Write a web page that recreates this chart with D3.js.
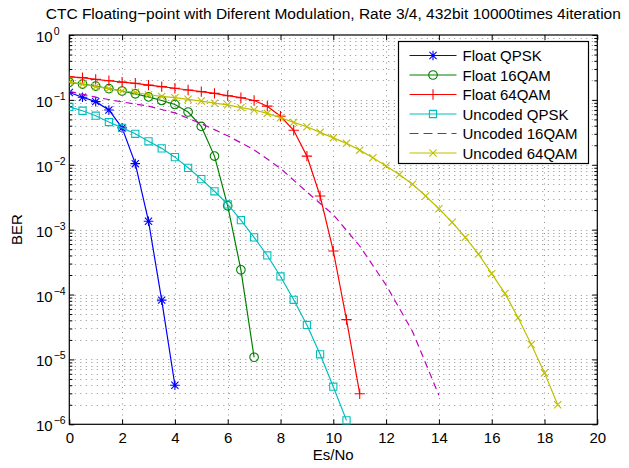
<!DOCTYPE html>
<html>
<head>
<meta charset="utf-8">
<script src="https://cdn.jsdelivr.net/npm/d3@7"></script>
<style>
  body { margin: 0; background: #fff; }
  svg { display: block; font-family: "Liberation Sans", Arial, sans-serif; }
</style>
</head>
<body>
<div id="chart"></div>
<script>
const titleText = "CTC Floating\u2212point with Diferent Modulation, Rate 3/4, 432bit 10000times 4iteration"
const xLabel = "Es/No"
const yLabel = "BER"

const xTicks = [0, 2, 4, 6, 8, 10, 12, 14, 16, 18, 20]
const yExponents = [0, -1, -2, -3, -4, -5, -6]

const seriesNames = ["Float QPSK", "Float 16QAM", "Float 64QAM", "Uncoded QPSK", "Uncoded 16QAM", "Uncoded 64QAM"]

const floatQpskX = [0, 0.5, 1, 1.5, 2, 2.5, 3, 3.5, 4]
const floatQpsk = [0.13, 0.11, 0.094, 0.070, 0.037, 0.0104, 1.35e-3, 8.2e-5, 4.0e-6]

const float16qamX = [0, 0.5, 1, 1.5, 2, 2.5, 3, 3.5, 4, 4.5, 5, 5.5, 6, 6.5, 7]
const float16qam = [0.187, 0.175, 0.163, 0.149, 0.137, 0.124, 0.111, 0.098, 0.085, 0.065, 0.039, 0.0136, 2.33e-3, 2.4e-4, 1.08e-5]

const float64qamX = [0, 0.5, 1, 1.5, 2, 2.5, 3, 3.5, 4, 4.5, 5, 5.5, 6, 6.5, 7, 7.5, 8, 8.5, 9, 9.5, 10, 10.5, 11]
const float64qam = [0.227, 0.22, 0.207, 0.197, 0.188, 0.18, 0.169, 0.16, 0.151, 0.142, 0.134, 0.126, 0.116, 0.108, 0.098, 0.080, 0.056, 0.034, 0.0136, 3.3e-3, 4.7e-4, 4.1e-5, 2.96e-6]

const uncodedQpskX = [0, 0.5, 1, 1.5, 2, 2.5, 3, 3.5, 4, 4.5, 5, 5.5, 6, 6.5, 7, 7.5, 8, 8.5, 9, 9.5, 10, 10.5]
const uncodedQpsk = [0.078, 0.068, 0.057, 0.0455, 0.037, 0.030, 0.023, 0.0179, 0.0131, 8.97e-3, 6.0e-3, 3.9e-3, 2.45e-3, 1.4e-3, 7.6e-4, 4.0e-4, 1.9e-4, 8.3e-5, 3.4e-5, 1.2e-5, 3.8e-6, 1.15e-6]

const uncoded16qamX = [0, 1, 2, 3, 4, 5, 6, 7, 8, 9, 10, 11, 12, 13, 14]
const uncoded16qam = [0.135, 0.110, 0.093, 0.080, 0.063, 0.043, 0.028, 0.017, 8.8e-3, 3.8e-3, 1.7e-3, 5.6e-4, 1.4e-4, 2.7e-5, 2.8e-6]

const uncoded64qamX = [0, 0.5, 1, 1.5, 2, 2.5, 3, 3.5, 4, 4.5, 5, 5.5, 6, 6.5, 7, 7.5, 8, 8.5, 9, 9.5, 10, 10.5, 11, 11.5, 12, 12.5, 13, 13.5, 14, 14.5, 15, 15.5, 16, 16.5, 17, 17.5, 18, 18.5]
const uncoded64qam = [0.19, 0.174, 0.16, 0.149, 0.137, 0.131, 0.12, 0.113, 0.108, 0.102, 0.096, 0.089, 0.084, 0.076, 0.070, 0.062, 0.053, 0.045, 0.0385, 0.0316, 0.026, 0.0214, 0.0168, 0.0128, 9.6e-3, 7.1e-3, 5.0e-3, 3.3e-3, 2.1e-3, 1.3e-3, 7.6e-4, 4.2e-4, 2.1e-4, 1.04e-4, 4.4e-5, 1.7e-5, 6.2e-6, 2.0e-6]

const seriesX = [floatQpskX, float16qamX, float64qamX, uncodedQpskX, uncoded16qamX, uncoded64qamX]
const seriesY = [floatQpsk, float16qam, float64qam, uncodedQpsk, uncoded16qam, uncoded64qam]
const colors = ["#0000ff", "#008000", "#ff0000", "#00bfbf", "#bf00bf", "#bfbf00"]
const markers = ["star", "circle", "plus", "square", null, "x"]
const dashes = [null, null, null, null, "7,4.5", null]

const width = 629,
    height = 468,
    margin = { top: 35, right: 31.7, bottom: 43.7, left: 69.3 }

const x = d3.scaleLinear()
    .domain([0, 20])
    .range([margin.left, width - margin.right])

const y = d3.scaleLog()
    .domain([1e-6, 1])
    .range([height - margin.bottom, margin.top])

const svg = d3.select('#chart').append('svg')
    .attr('width', width)
    .attr('height', height)

svg.append('rect').attr('width', width).attr('height', height).attr('fill', '#fff')

svg.append('clipPath').attr('id', 'plot')
    .append('rect')
    .attr('x', margin.left).attr('y', margin.top - 6)
    .attr('width', x(20) - x(0)).attr('height', y(1e-6) - y(1) + 12)

// minor decades 2..9
const majorY = yExponents.map(e => Math.pow(10, e))
const minorY = []
majorY.slice(1).forEach(v => { for (let k = 2; k <= 9; k++) minorY.push(v * k) })

const grid = svg.append('g')
    .attr('stroke', '#000')
    .attr('stroke-width', 0.8)
    .attr('stroke-dasharray', '1,4.5')
    .attr('opacity', 0.55)

grid.selectAll('.hy')
    .data(majorY.concat(minorY).filter(v => v > 1e-6 && v < 1))
    .join('line')
    .attr('x1', x(0)).attr('x2', x(20))
    .attr('y1', d => Math.round(y(d)) + 0.5).attr('y2', d => Math.round(y(d)) + 0.5)

grid.selectAll('.vx')
    .data(xTicks.slice(1, -1))
    .join('line')
    .attr('y1', y(1)).attr('y2', y(1e-6))
    .attr('x1', d => Math.round(x(d)) + 0.5).attr('x2', d => Math.round(x(d)) + 0.5)

// axes, ticks inward on all sides
const fontSize = 15
const axBottom = svg.append('g')
    .attr('transform', `translate(0,${y(1e-6)})`)
    .call(d3.axisBottom(x).tickValues(xTicks).tickSize(-5).tickPadding(8))
const axTop = svg.append('g')
    .attr('transform', `translate(0,${y(1)})`)
    .call(d3.axisTop(x).tickValues(xTicks).tickSize(-5).tickFormat(''))
const axLeft = svg.append('g')
    .attr('transform', `translate(${x(0)},0)`)
    .call(d3.axisLeft(y).tickValues(majorY).tickSize(-5).tickFormat(''))
const axLeftMinor = svg.append('g')
    .attr('transform', `translate(${x(0)},0)`)
    .call(d3.axisLeft(y).tickValues(minorY).tickSize(-3).tickFormat(''))
const axRight = svg.append('g')
    .attr('transform', `translate(${x(20)},0)`)
    .call(d3.axisRight(y).tickValues(majorY).tickSize(-5).tickFormat(''))
const axRightMinor = svg.append('g')
    .attr('transform', `translate(${x(20)},0)`)
    .call(d3.axisRight(y).tickValues(minorY).tickSize(-3).tickFormat(''))

;[axBottom, axTop, axLeft, axLeftMinor, axRight, axRightMinor].forEach(g => {
    g.select('.domain').remove()
    g.selectAll('line').attr('stroke', '#000')
})
axBottom.selectAll('text')
    .attr('font-size', fontSize)
    .attr('font-family', '"Liberation Sans", Arial, sans-serif')
    .attr('fill', '#000')

svg.append('rect')
    .attr('x', x(0)).attr('y', y(1))
    .attr('width', x(20) - x(0)).attr('height', y(1e-6) - y(1))
    .attr('fill', 'none')
    .attr('stroke', '#000')
    .attr('stroke-width', 1.2)

// y tick labels 10^n
const yLabels = svg.append('g')
    .attr('font-size', fontSize)
    .attr('fill', '#000')
yExponents.forEach(e => {
    const t = yLabels.append('text')
        .attr('x', 36)
        .attr('y', y(Math.pow(10, e)) + 7)
    t.append('tspan').text('10')
    t.append('tspan')
        .attr('dy', -7)
        .attr('dx', 1)
        .attr('font-size', 10.5)
        .text(e === 0 ? '0' : '\u2212' + Math.abs(e))
})

// markers
function markerPath(type, s) {
    const p = d3.path()
    if (type === 'circle') {
        p.moveTo(s, 0); p.arc(0, 0, s, 0, 2 * Math.PI)
    } else if (type === 'square') {
        p.rect(-s, -s, 2 * s, 2 * s)
    } else if (type === 'plus') {
        p.moveTo(-s, 0); p.lineTo(s, 0); p.moveTo(0, -s); p.lineTo(0, s)
    } else if (type === 'x') {
        const a = s * 0.75
        p.moveTo(-a, -a); p.lineTo(a, a); p.moveTo(-a, a); p.lineTo(a, -a)
    } else if (type === 'star') {
        const a = s * 0.75
        p.moveTo(-s, 0); p.lineTo(s, 0); p.moveTo(0, -s); p.lineTo(0, s)
        p.moveTo(-a, -a); p.lineTo(a, a); p.moveTo(-a, a); p.lineTo(a, -a)
    }
    return p.toString()
}
const markerSize = { star: 4.8, circle: 4.3, plus: 5.2, square: 3.6, x: 4.8 }

const line = d3.line()
    .x(d => x(d[0]))
    .y(d => y(d[1]))

const plot = svg.append('g').attr('clip-path', 'url(#plot)')

seriesY.forEach((vals, i) => {
    const pts = vals.map((v, j) => [seriesX[i][j], v])
    const g = plot.append('g')
    g.append('path')
        .datum(pts)
        .attr('d', line)
        .attr('fill', 'none')
        .attr('stroke', colors[i])
        .attr('stroke-width', 1.2)
        .attr('stroke-dasharray', dashes[i])
    if (markers[i]) {
        g.selectAll('.m')
            .data(pts)
            .join('path')
            .attr('transform', d => `translate(${x(d[0])},${y(d[1])})`)
            .attr('d', markerPath(markers[i], markerSize[markers[i]]))
            .attr('fill', 'none')
            .attr('stroke', colors[i])
            .attr('stroke-width', 1.1)
    }
})

// legend
const lg = svg.append('g').attr('transform', 'translate(398.5,41.5)')
lg.append('rect')
    .attr('width', 190).attr('height', 122)
    .attr('fill', '#fff')
    .attr('stroke', '#000')
    .attr('stroke-width', 1.2)
seriesNames.forEach((name, i) => {
    const yy = 14 + i * 19.5
    lg.append('line')
        .attr('x1', 11).attr('x2', 58)
        .attr('y1', yy).attr('y2', yy)
        .attr('stroke', colors[i])
        .attr('stroke-width', 1.2)
        .attr('stroke-dasharray', dashes[i] ? '9,5' : null)
    if (markers[i]) {
        lg.append('path')
            .attr('transform', `translate(34.5,${yy})`)
            .attr('d', markerPath(markers[i], markerSize[markers[i]]))
            .attr('fill', 'none')
            .attr('stroke', colors[i])
            .attr('stroke-width', 1.1)
    }
    lg.append('text')
        .attr('x', 64)
        .attr('y', yy + 5.5)
        .attr('font-size', fontSize)
        .attr('fill', '#000')
        .text(name)
})

// titles
svg.append('text')
    .attr('x', (x(0) + x(20)) / 2)
    .attr('y', 19)
    .attr('text-anchor', 'middle')
    .attr('font-size', 15.5)
    .text(titleText)

svg.append('text')
    .attr('x', (x(0) + x(20)) / 2)
    .attr('y', 460)
    .attr('text-anchor', 'middle')
    .attr('font-size', fontSize)
    .text(xLabel)

svg.append('text')
    .attr('transform', `translate(22,${(y(1) + y(1e-6)) / 2}) rotate(-90)`)
    .attr('text-anchor', 'middle')
    .attr('font-size', fontSize)
    .text(yLabel)
</script>
</body>
</html>
